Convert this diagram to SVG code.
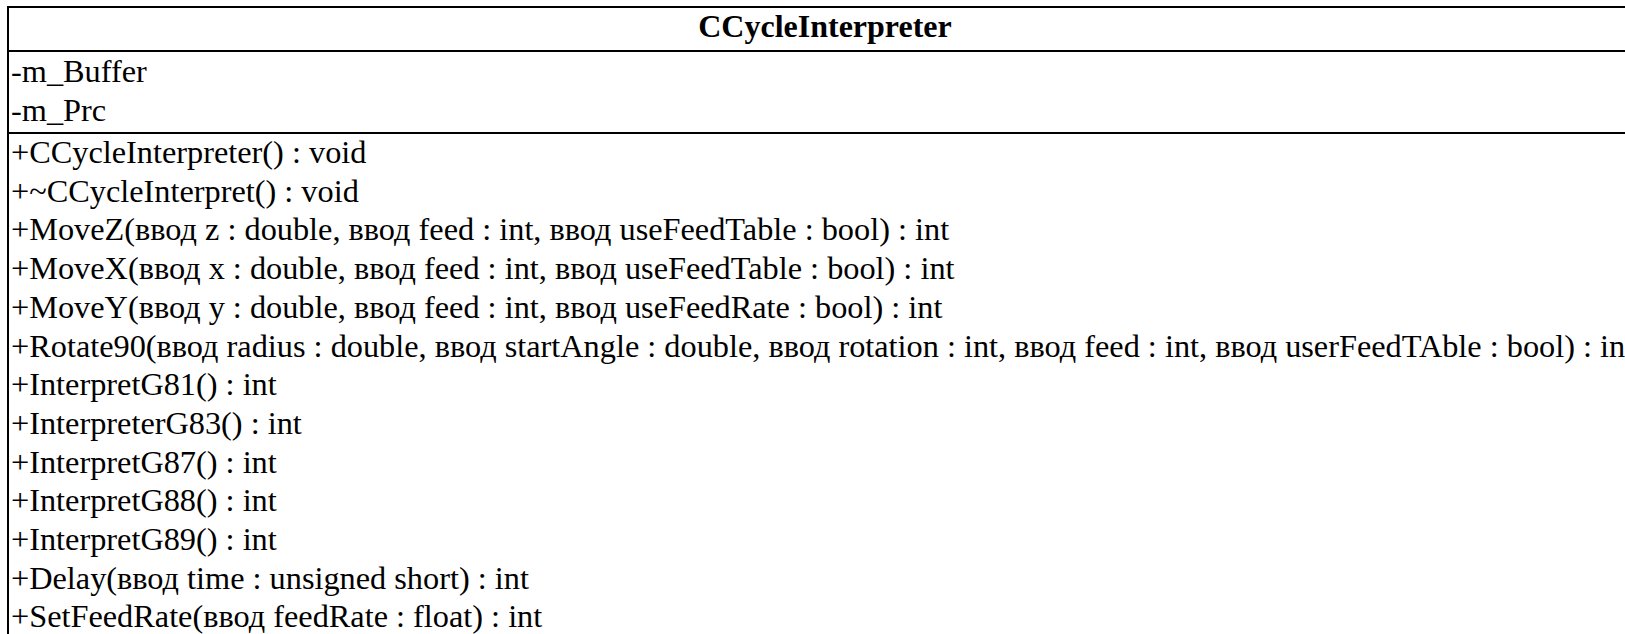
<svg xmlns="http://www.w3.org/2000/svg" width="1625" height="634" viewBox="0 0 1625 634">
  <style>
    .frame { fill: #ffffff; stroke: #000000; stroke-width: 2; }
    .rule { stroke: #000000; stroke-width: 2; }
  </style>
  <rect width="1625" height="634" fill="#ffffff"/>
  <g id="CCycleInterpreter">
    <!-- class box runs past the right and bottom edges of the canvas -->
    <rect class="frame" x="8" y="7" width="1640" height="700"/>
    <line class="rule" x1="8" y1="51" x2="1648" y2="51"/>
    <line class="rule" x1="8" y1="133" x2="1648" y2="133"/>
    <text x="825" y="37" text-anchor="middle" font-family="Liberation Serif, serif" font-size="32" font-weight="bold" fill="#000000">CCycleInterpreter</text>
    <g font-family="Liberation Serif, serif" font-size="32.3" fill="#000000">
      <!-- attributes -->
      <text x="11" y="82">-m_Buffer</text>
      <text x="11" y="120.5">-m_Prc</text>
      <!-- operations -->
      <text x="11" y="163">+CCycleInterpreter() : void</text>
      <text x="11" y="201.7">+~CCycleInterpret() : void</text>
      <text x="11" y="240.4">+MoveZ(ввод z : double, ввод feed : int, ввод useFeedTable : bool) : int</text>
      <text x="11" y="279.1">+MoveX(ввод x : double, ввод feed : int, ввод useFeedTable : bool) : int</text>
      <text x="11" y="317.8">+MoveY(ввод y : double, ввод feed : int, ввод useFeedRate : bool) : int</text>
      <text x="11" y="356.5">+Rotate90(ввод radius : double, ввод startAngle : double, ввод rotation : int, ввод feed : int, ввод userFeedTAble : bool) : int</text>
      <text x="11" y="395.2">+InterpretG81() : int</text>
      <text x="11" y="433.9">+InterpreterG83() : int</text>
      <text x="11" y="472.6">+InterpretG87() : int</text>
      <text x="11" y="511.3">+InterpretG88() : int</text>
      <text x="11" y="550">+InterpretG89() : int</text>
      <text x="11" y="588.7">+Delay(ввод time : unsigned short) : int</text>
      <text x="11" y="627.4">+SetFeedRate(ввод feedRate : float) : int</text>
    </g>
  </g>
  <g id="connectors"/>
</svg>
